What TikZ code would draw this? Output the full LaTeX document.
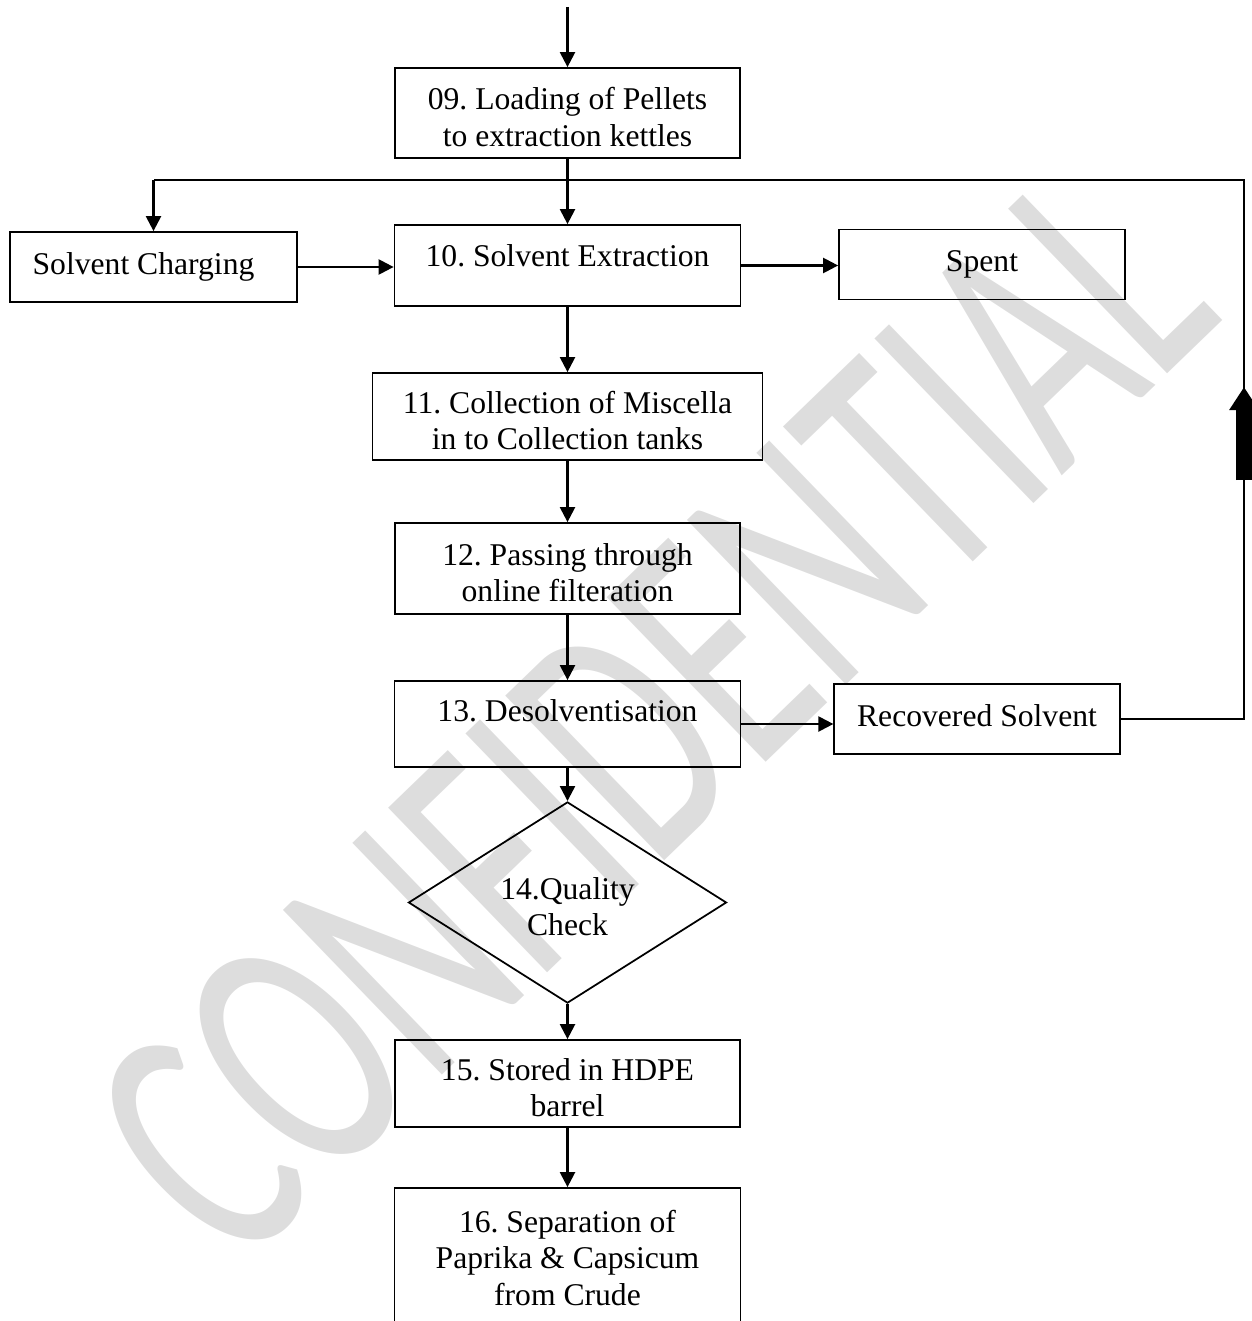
\documentclass[tikz,border=0pt]{standalone}
\usepackage{fontspec}
\setmainfont{Liberation Serif}
\newfontfamily\wmfont{Carlito}
\usepackage{graphicx}
\usetikzlibrary{arrows.meta, positioning, shapes.geometric, calc}
\definecolor{wm_gray}{RGB}{221, 221, 221}
\newcommand{\lowpad}[1]{\rule[-#1]{0pt}{#1}}
\newcommand{\highpad}{\rule{0pt}{17pt}}
\frenchspacing

\begin{document}
\begin{tikzpicture}[
      font=\fontsize{18}{20.8}\selectfont,
      box/.style={rectangle, draw=black, line width=1pt,
                  align=center, inner sep=0pt},
      check/.style={diamond, draw=black, line width=1pt,
                    align=center, inner sep=0pt},
      arr/.style={-{Triangle[length=0.3cm, width=0.3cm]}, line width=1.3pt},
      retline/.style={line width=0.9pt},
      bigarr/.style={-{Triangle[length=0.46cm, width=0.56cm]}, line width=0.32cm},
      wmark/.style={text=wm_gray, inner sep=0pt,
                    font=\wmfont\fontsize{203}{203}\selectfont},
    ]
      \useasboundingbox (0,0) rectangle (25.04,-26.42);

      % watermark
      \node[wmark, rotate=44] (wm) at (13.02,-14.28) {\scalebox{0.64}[1]{CONFIDENTIAL}};

      % process steps
      \coordinate (start) at (11.35,-0.14);
      \node[box, minimum width=6.9cm,  minimum height=1.8cm]  (load)    at (11.35,-2.26)
            {\highpad 09. Loading of Pellets\\to extraction kettles};
      \node[box, minimum width=6.92cm, minimum height=1.62cm] (extract) at (11.35,-5.31)
            {\highpad 10. Solvent Extraction\lowpad{16.2pt}};
      \node[box, minimum width=7.8cm,  minimum height=1.74cm] (collect) at (11.35,-8.33)
            {\highpad 11. Collection of Miscella\\in to Collection tanks};
      \node[box, minimum width=6.91cm, minimum height=1.82cm] (filter)  at (11.35,-11.37)
            {\highpad 12. Passing through\\online filteration};
      \node[box, minimum width=6.92cm, minimum height=1.72cm] (desolv)  at (11.35,-14.48)
            {\highpad 13. Desolventisation\lowpad{20.4pt}};
      \node[check, minimum width=6.36cm, minimum height=2.99cm] (quality) at (11.35,-18.05)
            {\highpad 14.Quality\\Check};
      \node[box, minimum width=6.91cm, minimum height=1.74cm] (store)   at (11.35,-21.67)
            {\highpad 15. Stored in HDPE\\barrel};
      \node[box, minimum width=6.92cm, minimum height=2.8cm]  (separ)   at (11.35,-25.16)
            {16. Separation of\\Paprika \& Capsicum\\from Crude};

      % side boxes
      \node[box, minimum width=5.74cm, minimum height=1.4cm]  (charge)  at (3.07,-5.34)
            {Solvent Charging\hspace*{0.4cm}};
      \node[box, minimum width=5.72cm, minimum height=1.4cm]  (spent)   at (19.64,-5.29)
            {Spent};
      \node[box, minimum width=5.71cm, minimum height=1.39cm] (recov)   at (19.54,-14.38)
            {Recovered Solvent\lowpad{4.5pt}};

      % main flow
      \draw[arr] (start) -- (load);
      \draw[arr] (load) -- (extract);
      \draw[arr] (extract) -- (collect);
      \draw[arr] (collect) -- (filter);
      \draw[arr] (filter) -- (desolv);
      \draw[arr] (desolv) -- (quality);
      \draw[arr] (quality) -- (store);
      \draw[arr] (store) -- (separ);

      \draw[arr] (charge.east) -- (charge.east -| extract.west);
      \draw[arr] (extract.east) -- (extract.east -| spent.west);
      \draw[arr] (desolv.east) -- (desolv.east -| recov.west);

      % solvent return
      \coordinate (loop) at (24.88,-3.6);
      \draw[retline] (recov.east) -| (loop) -- (loop -| charge.north);
      \draw[arr] (loop -| charge.north) -- (charge.north);

      \coordinate (bigtail) at (24.88,-9.6);
      \coordinate (bigtip)  at (24.88,-7.74);
      \draw[bigarr] (bigtail) -- (bigtip);
    \end{tikzpicture}
\end{document}
